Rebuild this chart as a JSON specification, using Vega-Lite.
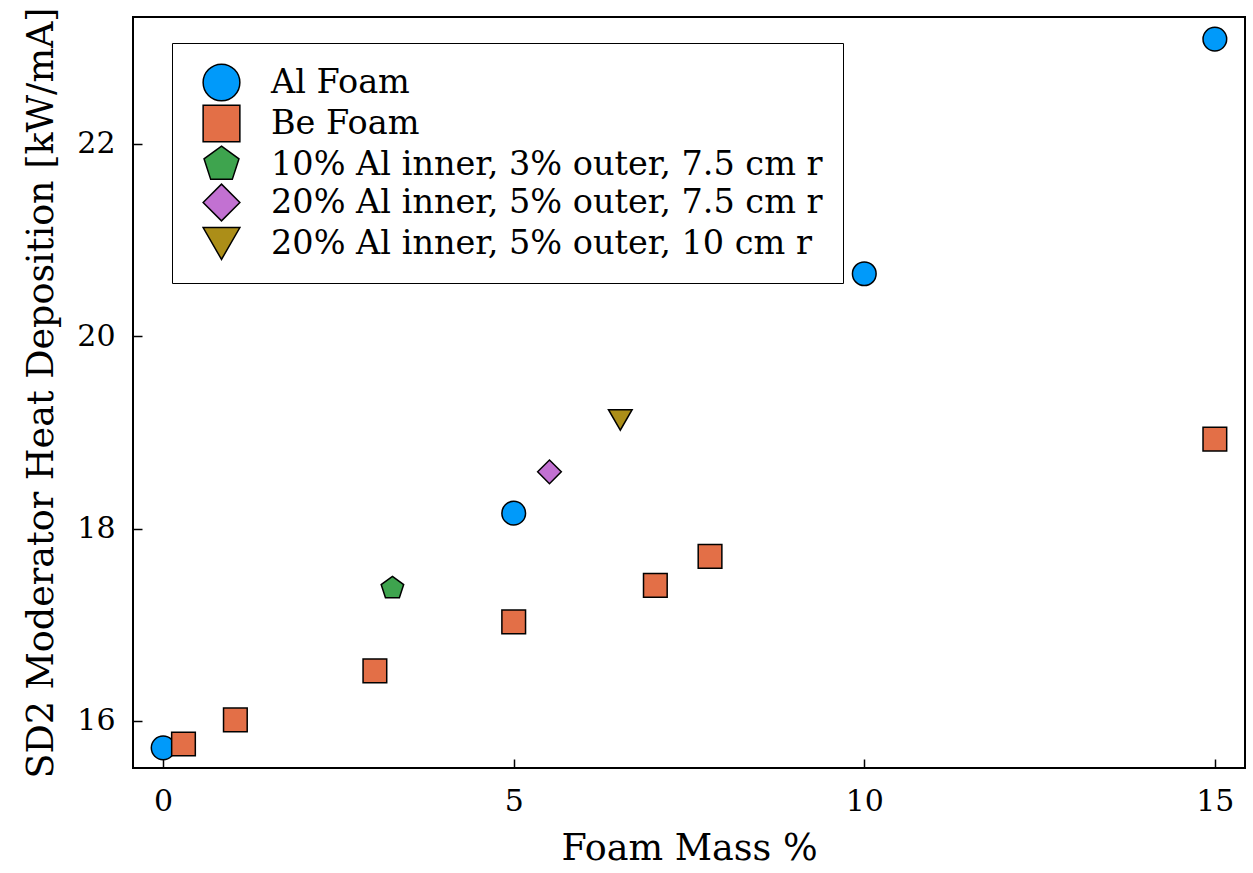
{
  "$schema": "https://vega.github.io/schema/vega-lite/v6.json",
  "width": 1112,
  "height": 751,
  "autosize": "none",
  "padding": {"left": 133, "top": 17, "right": 8, "bottom": 105},
  "background": "white",
  "config": {
    "view": {"stroke": "black", "strokeWidth": 2},
    "font": "DejaVu Serif"
  },
  "data": {
    "values": [
      {"mass": 0, "heat": 15.72, "series": "Al Foam"},
      {"mass": 5, "heat": 18.16, "series": "Al Foam"},
      {"mass": 10, "heat": 20.65, "series": "Al Foam"},
      {"mass": 15, "heat": 23.09, "series": "Al Foam"},
      {"mass": 0.29, "heat": 15.76, "series": "Be Foam"},
      {"mass": 1.03, "heat": 16.01, "series": "Be Foam"},
      {"mass": 3.02, "heat": 16.52, "series": "Be Foam"},
      {"mass": 5.0, "heat": 17.03, "series": "Be Foam"},
      {"mass": 7.02, "heat": 17.41, "series": "Be Foam"},
      {"mass": 7.8, "heat": 17.71, "series": "Be Foam"},
      {"mass": 15, "heat": 18.93, "series": "Be Foam"},
      {"mass": 3.27, "heat": 17.38, "series": "10% Al inner, 3% outer, 7.5 cm r"},
      {"mass": 5.51, "heat": 18.59, "series": "20% Al inner, 5% outer, 7.5 cm r"},
      {"mass": 6.52, "heat": 19.13, "series": "20% Al inner, 5% outer, 10 cm r"}
    ]
  },
  "mark": {"type": "point", "filled": true, "stroke": "black", "strokeWidth": 1.5, "size": 560, "opacity": 1},
  "encoding": {
    "x": {
      "field": "mass", "type": "quantitative",
      "scale": {"domain": [-0.43, 15.43], "nice": false, "zero": false},
      "axis": {
        "title": "Foam Mass %", "values": [0, 5, 10, 15], "grid": false, "domain": false,
        "tickSize": -9, "tickColor": "black", "tickWidth": 1.5,
        "labelFontSize": 30, "labelColor": "black", "labelPadding": 27, "labelFont": "DejaVu Serif",
        "titleFontSize": 36.5, "titleFontWeight": "normal", "titleColor": "black", "titlePadding": 14, "titleFont": "DejaVu Serif"
      }
    },
    "y": {
      "field": "heat", "type": "quantitative",
      "scale": {"domain": [15.51, 23.32], "nice": false, "zero": false},
      "axis": {
        "title": "SD2 Moderator Heat Deposition [kW/mA]", "values": [16, 18, 20, 22], "grid": false, "domain": false,
        "tickSize": -9, "tickColor": "black", "tickWidth": 1.5,
        "labelFontSize": 30, "labelColor": "black", "labelPadding": 27, "labelFont": "DejaVu Serif",
        "titleFontSize": 36.5, "titleFontWeight": "normal", "titleColor": "black", "titlePadding": 16, "titleFont": "DejaVu Serif"
      }
    },
    "color": {
      "field": "series", "type": "nominal",
      "scale": {
        "domain": ["Al Foam", "Be Foam", "10% Al inner, 3% outer, 7.5 cm r", "20% Al inner, 5% outer, 7.5 cm r", "20% Al inner, 5% outer, 10 cm r"],
        "range": ["#009AFA", "#E36F47", "#3EA44E", "#C271D2", "#AC8E18"]
      },
      "legend": {
        "title": null, "orient": "none", "legendX": 39, "legendY": 26,
        "strokeColor": "black", "fillColor": "white", "padding": 20, "symbolOffset": 10,
        "symbolSize": 1350, "symbolStrokeColor": "black", "symbolStrokeWidth": 1.5, "symbolOpacity": 1,
        "labelFontSize": 33.5, "labelColor": "black", "labelOffset": 30, "rowPadding": -2, "labelLimit": 0, "labelFont": "DejaVu Serif"
      }
    },
    "shape": {
      "field": "series", "type": "nominal",
      "scale": {
        "domain": ["Al Foam", "Be Foam", "10% Al inner, 3% outer, 7.5 cm r", "20% Al inner, 5% outer, 7.5 cm r", "20% Al inner, 5% outer, 10 cm r"],
        "range": ["circle", "square", "M0,-1L0.951,-0.309L0.588,0.809L-0.588,0.809L-0.951,-0.309Z", "diamond", "triangle-down"]
      }
    }
  }
}
